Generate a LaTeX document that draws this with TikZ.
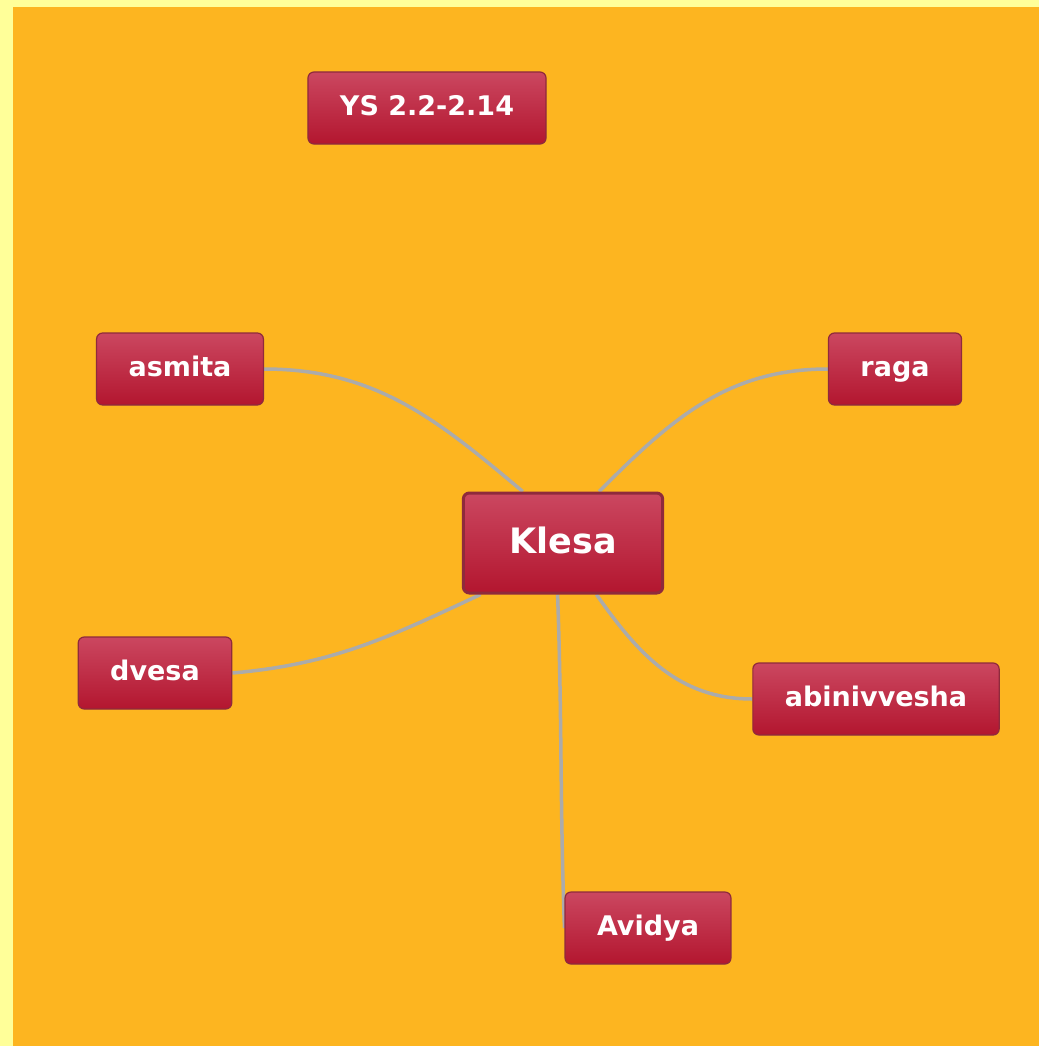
\documentclass[tikz,border=0pt]{standalone}
\usepackage{fontspec}
\setmainfont{DejaVu Sans}
\usepackage{tikz}
\usepackage{xcolor}
\usetikzlibrary{arrows.meta,shapes,backgrounds}
\definecolor{paleyellow}{HTML}{FFFF99}
\definecolor{amber}{HTML}{FDB520}
\definecolor{boxtop}{HTML}{CB4760}
\definecolor{boxbot}{HTML}{B3162F}
\definecolor{boxrim}{HTML}{8F2A3C}
\definecolor{link}{HTML}{ABABAB}

\begin{document}
\begin{tikzpicture}[x=1pt,y=-1pt,
klesabox/.style={draw=boxrim,line width=1.2pt,rounded corners=6pt,top color=boxtop,bottom color=boxbot,
  text=white,font=\bfseries\fontsize{27}{32}\selectfont,inner xsep=32pt,minimum height=72pt,
  text height=20pt,text depth=5pt},
link/.style={draw=link,line width=3.5pt}]
\useasboundingbox (0,0) rectangle (1039,1046);
% the centre and the klesas
\node[klesabox,line width=3pt,inner xsep=46pt,minimum height=100pt,text height=26pt,text depth=6pt,
  font=\bfseries\fontsize{35}{40}\selectfont](klesa) at (563,543){Klesa};
\node[klesabox](ys) at (427,108){YS 2.2-2.14};
\node[klesabox](asmita) at (180,369){asmita};
\node[klesabox](raga) at (895,369){raga};
\node[klesabox](dvesa) at (155,673){dvesa};
\node[klesabox](abin) at (876,699){abinivvesha};
\node[klesabox](avidya) at (648,928){Avidya};
\begin{scope}[on background layer]
\fill[paleyellow](0,0) rectangle (1039,1046);
\fill[amber](13,7) rectangle (1039,1046);
\draw[link](klesa.128) to[out=140,in=0] (asmita.east);
\draw[link](klesa.55) to[out=45,in=180] (raga.west);
\draw[link](klesa.212) to[out=205,in=5] (dvesa.east);
\draw[link](klesa.303) to[out=-55,in=180] (abin.west);
\draw[link](klesa.264) to[out=-88,in=92] (avidya.west);
\end{scope}
\end{tikzpicture}
\end{document}
